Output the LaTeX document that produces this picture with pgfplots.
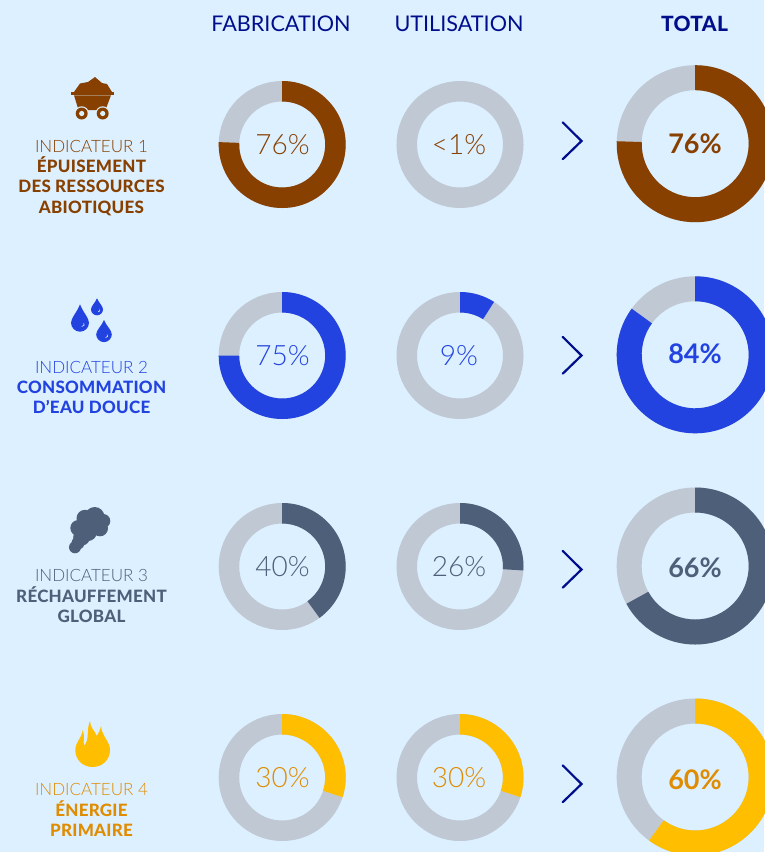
\documentclass[border=0pt]{standalone}
\usepackage{pgfplots}
\pgfplotsset{compat=1.18}
\usepackage{fontspec}
\setmainfont{Lato}
\newfontfamily\lightf{Lato Light}
\newfontfamily\heavyf{Lato Heavy}[LetterSpace=1.5]
\definecolor{bgc}{HTML}{DCF0FF}
\definecolor{greyc}{HTML}{C0C8D4}
\definecolor{navyc}{HTML}{000E8C}
\definecolor{brownc}{HTML}{874000}
\definecolor{bluec}{HTML}{2343E0}
\definecolor{slatec}{HTML}{4E6079}
\definecolor{yellowc}{HTML}{FFBF00}
\definecolor{orangec}{HTML}{E08C00}
\newcommand\declaredonut[2]{%
\pgfdeclareplotmark{#1}{%
  \pgfmathsetmacro\endang{90-3.6*\pct}%
  \pgfmathsetmacro\rout{\rad+0.5*\wid}%
  \pgfmathsetmacro\rin{\rad-0.5*\wid}%
  \pgfsetlinewidth{\wid pt}%
  \pgfsetbuttcap
  \pgfsetstrokecolor{greyc}%
  \pgfpathcircle{\pgfpointorigin}{\rad pt}%
  \pgfusepath{stroke}%
  \pgfmathparse{\pct>0?1:0}%
  \ifnum\pgfmathresult>0
  \pgfsetfillcolor{#2}%
  \pgfpathmoveto{\pgfpoint{0pt}{\rout pt}}%
  \pgfpatharc{90}{\endang}{\rout pt}%
  \pgfpathlineto{\pgfpointpolar{\endang}{\rin pt}}%
  \pgfpatharc{\endang}{90}{\rin pt}%
  \pgfpathclose
  \pgfusepath{fill}%
  \fi
}}
\declaredonut{donutA}{brownc}
\declaredonut{donutB}{bluec}
\declaredonut{donutC}{slatec}
\declaredonut{donutD}{yellowc}
\pgfplotstableread{
x y pct r w
282.2 144.5 75.6 53.25 20.5
460 144.5 0 53.25 20.5
695.2 143.7 75.5 66 25
}\tabA
\pgfplotstableread{
x y pct r w
282.2 355.5 75 53.25 20.5
460 355.5 9 53.25 20.5
695.2 354.8 85 66 25
}\tabB
\pgfplotstableread{
x y pct r w
282.2 566.5 40 53.25 20.5
460 566.5 26 53.25 20.5
695.2 566 67 66 25
}\tabC
\pgfplotstableread{
x y pct r w
282.2 777.5 30 53.25 20.5
460 777.5 30 53.25 20.5
695.2 777 60 66 25
}\tabD
\pgfplotsset{donutplot/.style={only marks, scatter, scatter src=y,
  mark=#1,
  visualization depends on=\thisrow{pct}\as\pct,
  visualization depends on=\thisrow{r}\as\rad,
  visualization depends on=\thisrow{w}\as\wid}}
\newcommand\drop[5]{% x tip centre r colour
  \fill[#5] (#1,#2) .. controls ({#1+0.3*#4},{#2+0.4*(#3-#2)}) and ({#1+#4},{#3-0.5*#4}) .. ({#1+#4},#3)
   .. controls ({#1+#4},{#3+0.55*#4}) and ({#1+0.55*#4},{#3+#4}) .. (#1,{#3+#4})
   .. controls ({#1-0.55*#4},{#3+#4}) and ({#1-#4},{#3+0.55*#4}) .. ({#1-#4},#3)
   .. controls ({#1-#4},{#3-0.5*#4}) and ({#1-0.3*#4},{#2+0.4*(#3-#2)}) .. (#1,#2) -- cycle;
  \draw[bgc,line width=0.6pt] ({#1+0.42*#4},{#3+0.05*#4}) .. controls ({#1+0.5*#4},{#3+0.3*#4}) .. ({#1+0.2*#4},{#3+0.42*#4});
}
\newcommand\chev[1]{\draw[navyc,line width=2.2pt,line cap=round,line join=miter] (562.7,{#1-18.6}) -- (581.5,#1) -- (562.7,{#1+18.2});}
\newcommand\pctl[5]{\node[anchor=base,inner sep=0,text=#4] at (#1,#2) {\lightf\fontsize{28}{28}\selectfont #3};}
\newcommand\pctb[4]{\node[anchor=base,inner sep=0,text=#4] at (#1,#2) {\bfseries\fontsize{27}{27}\selectfont #3};}
\newcommand\lab[3]{\node[anchor=base,inner sep=0,text=#3] at (91.5,#1) {\lightf\fontsize{17}{17}\selectfont #2};}
\newcommand\labb[3]{\node[anchor=base,inner sep=0,text=#3] at (91.5,#1) {\heavyf\fontsize{17}{17}\selectfont #2};}
\begin{document}
\begin{tikzpicture}
\begin{axis}[name=ax,at={(0,0)},anchor=south west,scale only axis,width=764pt,height=852pt,
  xmin=0,xmax=764,ymin=0,ymax=852,y dir=reverse,
  axis line style={draw=none},xtick=\empty,ytick=\empty,
  axis background/.style={fill=bgc},clip=false]
\addplot[donutplot=donutA] table[x=x,y=y] {\tabA};
\addplot[donutplot=donutB] table[x=x,y=y] {\tabB};
\addplot[donutplot=donutC] table[x=x,y=y] {\tabC};
\addplot[donutplot=donutD] table[x=x,y=y] {\tabD};
% headers
\node[anchor=base,text=navyc,inner sep=0] at (281,31) {\fontsize{21.6}{21.6}\selectfont FABRICATION};
\node[anchor=base,text=navyc,inner sep=0] at (459,31) {\fontsize{21.6}{21.6}\selectfont UTILISATION};
\node[anchor=base,text=navyc,inner sep=0] at (694.5,31) {\heavyf\fontsize{21}{21}\selectfont TOTAL};
% percentages
\pctl{282.5}{154}{76\%}{brownc}{27}
\pctl{459}{154}{<1\%}{brownc}{27}
\pctb{695}{153.5}{76\%}{brownc}
\pctl{282.5}{365.5}{75\%}{bluec}{27}
\pctl{459}{365.5}{9\%}{bluec}{27}
\pctb{695}{363.5}{84\%}{bluec}
\pctl{282.5}{576}{40\%}{slatec}{27}
\pctl{459}{576}{26\%}{slatec}{27}
\pctb{695}{577.5}{66\%}{slatec}
\pctl{282.5}{787.5}{30\%}{orangec}{27}
\pctl{459}{787.5}{30\%}{orangec}{27}
\pctb{695}{789.5}{60\%}{orangec}
% labels
\lab{152}{INDICATEUR 1}{brownc}
\labb{172.5}{ÉPUISEMENT}{brownc}
\labb{192.5}{DES RESSOURCES}{brownc}
\labb{213}{ABIOTIQUES}{brownc}
\lab{373}{INDICATEUR 2}{bluec}
\labb{393}{CONSOMMATION}{bluec}
\labb{413}{D’EAU DOUCE}{bluec}
\lab{581.5}{INDICATEUR 3}{slatec}
\labb{602}{RÉCHAUFFEMENT}{slatec}
\labb{622}{GLOBAL}{slatec}
\lab{795.3}{INDICATEUR 4}{orangec}
\labb{816}{ÉNERGIE}{orangec}
\labb{836}{PRIMAIRE}{orangec}
% chevrons
\chev{141}
\chev{355.5}
\chev{569.5}
\chev{784}
% cart
\fill[brownc] (74,92) -- (80,83.5) -- (88,82) -- (95,77) -- (102,83) -- (107,84) -- (112,92) -- cycle;
\fill[brownc] (71,92.3) rectangle (114,94.5);
\fill[brownc] (74,95.3) -- (111,95.3) -- (105.5,110) -- (78.5,110) -- cycle;
\fill[bgc] (81.7,113.5) circle[radius=7.2];
\fill[bgc] (102.7,113.5) circle[radius=7.2];
\fill[brownc] (81.7,113.5) circle[radius=6];
\fill[brownc] (102.7,113.5) circle[radius=6];
\fill[bgc] (81.7,113.5) circle[radius=2.6];
\fill[bgc] (102.7,113.5) circle[radius=2.6];
% drops
\drop{80}{304.3}{322.7}{9}{bluec}
\drop{97}{298.3}{309.3}{6}{bluec}
\drop{104}{320}{334.3}{7.8}{bluec}
% cloud
\fill[slatec] (94.7,516.7) circle[radius=9.7];
\fill[slatec] (103.3,521) circle[radius=7];
\fill[slatec] (100,528.3) circle[radius=8];
\fill[slatec] (78.3,528) circle[radius=8];
\fill[slatec] (85,518.3) circle[radius=8.5];
\fill[slatec] (88,532) circle[radius=9];
\fill[slatec] (81.7,537) circle[radius=8.5];
\fill[slatec] (78,543) circle[radius=6.5];
\fill[slatec] (75,547.3) circle[radius=6];
\fill[slatec] (90,525) circle[radius=10];
% flame
\fill[yellowc] (75.3,750) .. controls (75.3,742) and (82,738) .. (82.7,730)
 .. controls (85,735) and (83,742) .. (84,745.5)
 .. controls (90,740) and (86,730) .. (90,721)
 .. controls (91,730) and (95,730) .. (96.7,736)
 .. controls (99,733) and (100,730) .. (101,726)
 .. controls (102,737) and (110,741) .. (110,750)
 .. controls (110,760) and (102,767) .. (92.5,767)
 .. controls (83,767) and (75.3,760) .. (75.3,750) -- cycle;
\end{axis}
\pgfresetboundingbox
\path[use as bounding box] (ax.south west) rectangle (ax.north east);
\end{tikzpicture}
\end{document}
